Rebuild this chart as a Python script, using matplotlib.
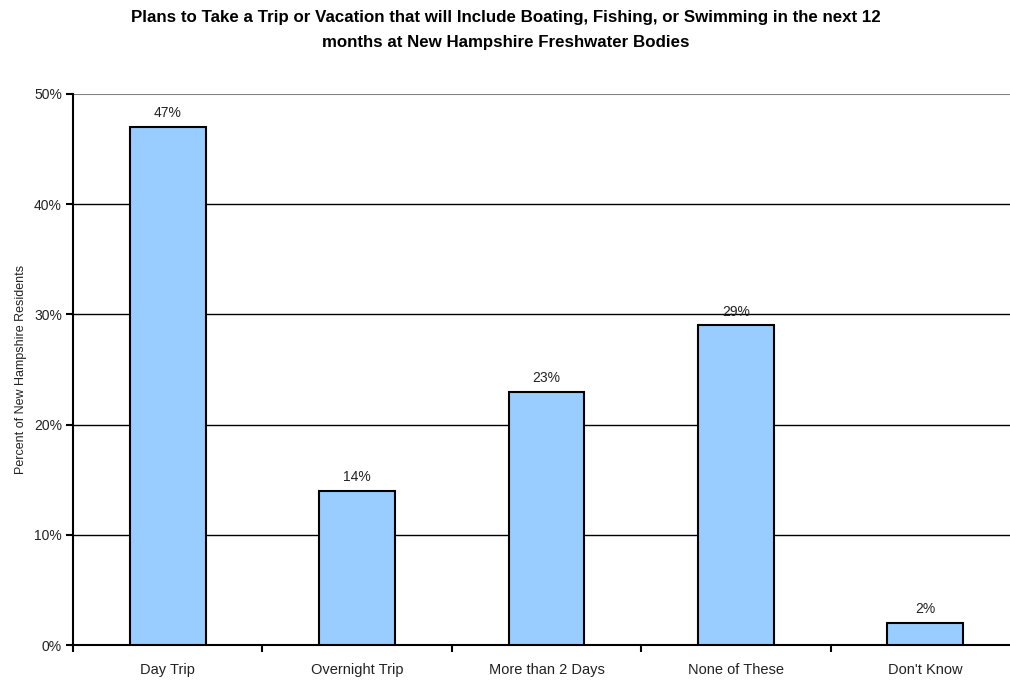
import matplotlib.pyplot as plt
import numpy as np

plt.rcParams['font.family'] = ['Liberation Sans', 'DejaVu Sans']

categories = ['Day Trip', 'Overnight Trip', 'More than 2 Days', 'None of These', "Don't Know"]
values = [47, 14, 23, 29, 2]
yticks = [0, 10, 20, 30, 40, 50]

fig = plt.figure(figsize=(10.1, 6.83), dpi=100)
ax = fig.add_axes([0.0723, 0.0556, 0.9376, 0.8068])

x = np.arange(len(categories))
ax.bar(x, values, width=0.4, color='#99CCFF', edgecolor='black', linewidth=1.5, zorder=3)

for xi, v in zip(x, values):
    ax.text(xi, v + 0.6, f'{v}%', ha='center', va='bottom', fontsize=10, color='#222222')

# horizontal gridlines, top one grey
for t in yticks[1:-1]:
    ax.axhline(t, color='black', linewidth=1, zorder=1)
ax.axhline(50, color='#808080', linewidth=1.5, zorder=1)

ax.set_xlim(-0.5, len(categories) - 0.5)
ax.set_ylim(0, 50)
ax.set_yticks(yticks)
ax.set_yticklabels([f'{t}%' for t in yticks], fontsize=10, color='#222222')

# category labels centred, tick marks at the boundaries
ax.set_xticks(x)
ax.set_xticklabels(categories, fontsize=10.5, color='#222222')
ax.tick_params(axis='x', which='major', length=0, pad=13)
ax.set_xticks(np.arange(-0.5, len(categories), 1), minor=True)
ax.tick_params(axis='x', which='minor', length=5, width=1.5, direction='out')
ax.tick_params(axis='y', length=5, width=1.5, direction='out', pad=3)

for s in ['top', 'right']:
    ax.spines[s].set_visible(False)
ax.spines['left'].set_linewidth(1.5)
ax.spines['bottom'].set_linewidth(1.5)

ax.set_ylabel('Percent of New Hampshire Residents', fontsize=9, color='#222222', labelpad=5)
fig.suptitle('Plans to Take a Trip or Vacation that will Include Boating, Fishing, or Swimming in the next 12\n'
             'months at New Hampshire Freshwater Bodies',
             x=0.501, y=0.986, fontsize=12.2, fontweight='bold', linespacing=1.85)

fig.savefig('out.png', dpi=100)
